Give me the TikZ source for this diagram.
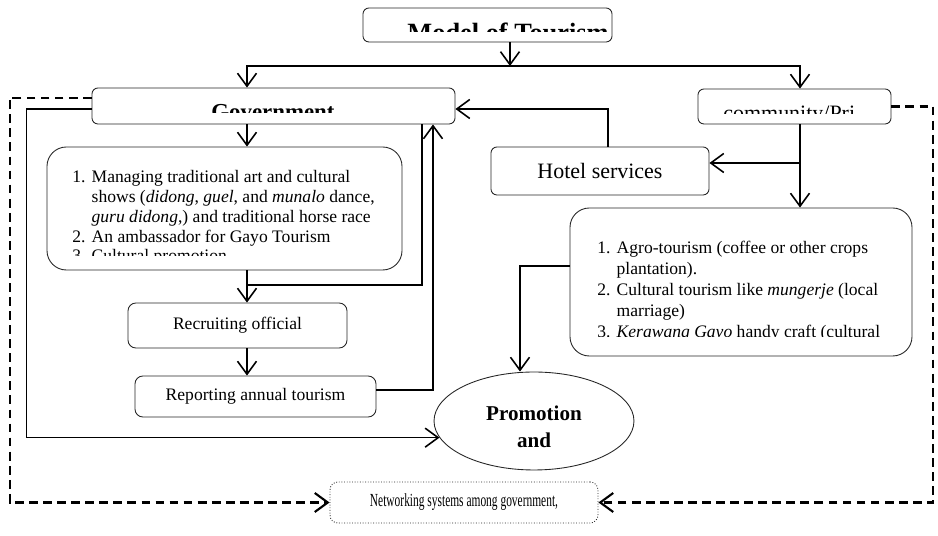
\documentclass[tikz,border=0pt]{standalone}
\usepackage{fontspec}
\setmainfont{Liberation Serif}
\newfontfamily\narrowfont[FakeStretch=0.62]{Liberation Serif}
\usetikzlibrary{arrows.meta, positioning, shapes.geometric, fit, calc}
\newlength{\hangwd}
\setlength{\hangwd}{11pt}
\newcommand{\numitem}[1]{\makebox[\hangwd][l]{#1}}

\begin{document}
\begin{tikzpicture}[x=0.02cm, y=-0.02cm,
    box/.style={draw=black!85, line width=0.5pt, inner sep=0pt},
    conn/.style={line width=0.9pt, -{Straight Barb[length=2.6mm, width=3.8mm]}},
    link/.style={line width=0.9pt},
    netlink/.style={line width=1.2pt, dash pattern=on 5pt off 3pt, -{Straight Barb[length=2.6mm, width=3.8mm]}},
    listfont/.style={font=\fontsize{10}{11.3}\selectfont}]
  \useasboundingbox (0,0) rectangle (938,536);

  % boxes
  \node[box, rounded corners=3.4pt, fit={(363,8) (612,42)}] (model) {};
  \node[box, rounded corners=3.4pt, fit={(92,88) (455,124)}] (gov) {};
  \node[box, rounded corners=3.4pt, fit={(698,89) (891,124)}] (com) {};
  \node[box, rounded corners=11pt, fit={(47,147) (402,270)}] (govlist) {};
  \node[box, rounded corners=3.4pt, fit={(491,147) (709,195)},
    label={[font=\fontsize{12.5}{14}\selectfont]center:Hotel services}] (hotel) {};
  \node[box, rounded corners=11pt, fit={(570,208) (912,356)}] (agrolist) {};
  \node[box, rounded corners=4.5pt, fit={(128,303) (347,348)},
    label={[font=\fontsize{10}{12}\selectfont]center:Recruiting official}] (rec) {};
  \node[box, rounded corners=4.5pt, fit={(135,376) (376,417)},
    label={[font=\fontsize{10}{12}\selectfont]center:Reporting annual tourism}] (rep) {};
  \node[box, ellipse, minimum width=4cm, minimum height=1.96cm,
    label={[align=center, yshift=-0.12cm, font=\bfseries\fontsize{12}{15.3}\selectfont]center:Promotion\\and}] (prom) at (534,421) {};
  \node[box, densely dotted, rounded corners=4.5pt, fit={(330,482) (598,523)},
    label={[font=\narrowfont\fontsize{10.5}{12}\selectfont]center:Networking systems among government,}] (net) {};

  % titles cut by their boxes
  \begin{scope}
    \clip (378,10) rectangle (610,32);
    \node[anchor=base, inner sep=0pt, font=\bfseries\fontsize{15}{17}\selectfont] (modeltxt) at (508,42) {Model of Tourism};
  \end{scope}
  \begin{scope}
    \clip (100,95) rectangle (450,113);
    \node[anchor=base, inner sep=0pt, font=\bfseries\fontsize{13}{15}\selectfont] (govtxt) at (273,120) {Government};
  \end{scope}
  \begin{scope}
    \clip (717,95) rectangle (874,114);
    \node[anchor=base west, inner sep=0pt, font=\fontsize{12.5}{14}\selectfont] (comtxt) at (723,121) {community/Pri};
  \end{scope}

  % lists
  \begin{scope}
    \clip (50,150) rectangle (400,256);
    \node[anchor=north west, inner sep=0pt, align=left, listfont] (govitems) at (72,170) {%
      \numitem{1.}Managing traditional art and cultural\\
      \hspace*{\hangwd}shows (\textit{didong}, \textit{guel}, and \textit{munalo} dance,\\
      \hspace*{\hangwd}\textit{guru didong},) and traditional horse race\\
      \numitem{2.}An ambassador for Gayo Tourism\\
      \numitem{3.}Cultural promotion};
  \end{scope}
  \begin{scope}
    \clip (573,212) rectangle (908,337);
    \node[anchor=north west, inner sep=0pt, align=left, font=\fontsize{10}{11.9}\selectfont] (agroitems) at (597,241) {%
      \numitem{1.}Agro-tourism (coffee or other crops\\
      \hspace*{\hangwd}plantation).\\
      \numitem{2.}Cultural tourism like \textit{mungerje} (local\\
      \hspace*{\hangwd}marriage)\\
      \numitem{3.}\textit{Kerawang Gayo} handy craft (cultural};
  \end{scope}

  % connectors
  \coordinate (split) at (510,66);
  \coordinate (gcol) at (247,285);
  \coordinate (dncol) at (422,285);
  \coordinate (upcol) at (433,390);
  \coordinate (ccol) at (800,163);
  \coordinate (hcol) at (608,109);
  \coordinate (acol) at (520,266);

  \draw[conn] (model.south -| split) -- (split);
  \draw[conn] (split) -| (gov.north -| gcol);
  \draw[conn] (split) -| (com.north -| ccol);
  \draw[conn] (gov.south -| gcol) -- (govlist.north -| gcol);
  \draw[link] (gov.south -| dncol) -- (dncol) -- (gcol);
  \draw[conn] (govlist.south -| gcol) -- (rec.north -| gcol);
  \draw[conn] (rec.south -| gcol) -- (rep.north -| gcol);
  \draw[conn] (rep.east |- upcol) -| (gov.south -| upcol);
  \draw[conn] ([yshift=-0.06cm]gov.west) -- ++(-65,0) |- (prom.190);
  \draw[conn] (hotel.north -| hcol) -- (hcol) -- (gov.east |- hcol);
  \draw[conn] (com.south -| ccol) -- (agrolist.north -| ccol);
  \draw[conn] (ccol) -- (hotel.east |- ccol);
  \draw[conn] (agrolist.west |- acol) -- (acol) -- (prom.north -| acol);
  \draw[netlink] ([yshift=0.16cm]gov.west) -- ++(-82,0) |- (net.west);
  \draw[netlink] (com.east) -- ++(42,0) |- (net.east);
\end{tikzpicture}
\end{document}
